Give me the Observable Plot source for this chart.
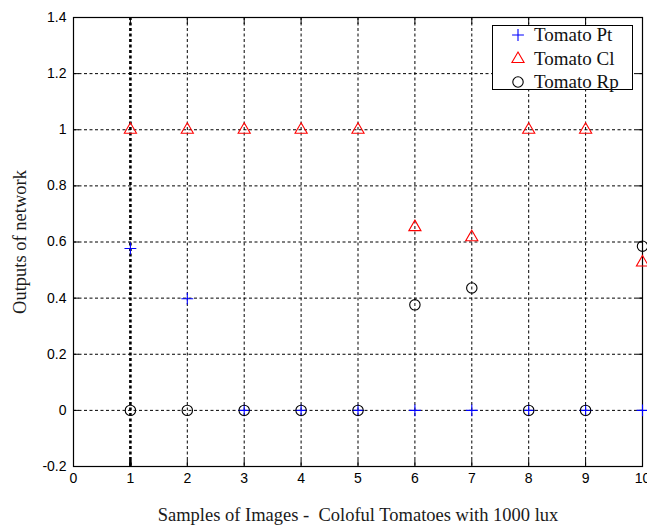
<!DOCTYPE html>
<html>
<head>
<meta charset="utf-8">
<script src="https://cdn.jsdelivr.net/npm/d3@7"></script>
<script src="https://cdn.jsdelivr.net/npm/@observablehq/plot@0.6"></script>
<style>
  html, body { margin: 0; padding: 0; background: #fff; }
  #chart { position: relative; width: 647px; height: 525px; overflow: hidden; background: #fff; }
  #legend { position: absolute; left: 492px; top: 25px; width: 139px; height: 63px; border: 1px solid #000; background: #fff;
            font-family: "Liberation Serif", "Times New Roman", serif; font-size: 19px; color: #111; }
  #legend .row { position: absolute; left: 0; height: 24px; display: flex; align-items: center; white-space: nowrap; }
  #legend svg { display: block; }
</style>
</head>
<body>
<div id="chart"></div>
<script>
// ---- data ----
const samples = [1, 2, 3, 4, 5, 6, 7, 8, 9, 10];
const tomatoPt = [0.577, 0.398, 0, 0, 0, 0, 0, 0, 0, 0];
const tomatoCl = [1, 1, 1, 1, 1, 0.653, 0.617, 1, 1, 0.527];
const tomatoRp = [0, 0, 0, 0, 0, 0.376, 0.436, 0, 0, 0.585];
const xTicks = [0, 1, 2, 3, 4, 5, 6, 7, 8, 9, 10];
const yTicks = [-0.2, 0, 0.2, 0.4, 0.6, 0.8, 1, 1.2, 1.4];
const seriesNames = ["Tomato Pt", "Tomato Cl", "Tomato Rp"];
const seriesColors = ["#0000ff", "#ff0000", "#000000"];
const xLabel = "Samples of Images -  Coloful Tomatoes with 1000 lux";
const yLabel = "Outputs of network";

const rows = [];
samples.forEach((s, i) => {
  rows.push({x: s, y: tomatoPt[i], series: seriesNames[0]});
  rows.push({x: s, y: tomatoCl[i], series: seriesNames[1]});
  rows.push({x: s, y: tomatoRp[i], series: seriesNames[2]});
});
const ofSeries = name => rows.filter(d => d.series === name);

const dash = "3,2.5";
const serif = "'Liberation Serif', 'Times New Roman', serif";
const plot = Plot.plot({
  width: 647,
  height: 525,
  marginLeft: 73,
  marginRight: 5,
  marginTop: 17,
  marginBottom: 59,
  style: {fontFamily: "'Liberation Sans', Arial, sans-serif", fontSize: "14px", background: "#fff", color: "#000"},
  x: {domain: [0, 10], axis: null},
  y: {domain: [-0.2, 1.4], axis: null},
  marks: [
    Plot.ruleX(xTicks.filter(d => d > 0 && d < 10), {x: d => d, stroke: "#000", strokeDasharray: dash,
      strokeWidth: d => d === 1 ? 2.6 : 1}),
    Plot.ruleY(yTicks.filter(d => d > -0.2 && d < 1.4), {y: d => d, stroke: "#000", strokeDasharray: dash, strokeWidth: 1}),
    Plot.axisX(xTicks, {anchor: "bottom", tickSize: -6, tickFormat: () => "", label: null, strokeWidth: d => d === 1 ? 2.6 : 1}),
    Plot.axisX(xTicks, {anchor: "top", tickSize: -6, tickFormat: () => "", label: null}),
    Plot.axisY(yTicks, {anchor: "right", tickSize: -6, tickFormat: () => "", label: null}),
    Plot.frame({stroke: "#000", strokeWidth: 1.2}),
    Plot.axisY(yTicks, {anchor: "left", tickSize: -6, tickPadding: 13, label: null, fontSize: 14, letterSpacing: "0.8px",
      tickFormat: d => String(+d.toFixed(1))}),
    Plot.text(xTicks, {x: d => d, frameAnchor: "bottom", dy: 12, lineAnchor: "middle", fontSize: 14,
      fontWeight: d => d === 1 ? "bold" : "normal", text: d => String(d)}),
    Plot.dot(ofSeries(seriesNames[0]), {x: "x", y: "y", symbol: "plus", r: 3.9, stroke: seriesColors[0], strokeWidth: 1.1, fill: "none"}),
    Plot.dot(ofSeries(seriesNames[1]), {x: "x", y: "y", symbol: "triangle2", r: 5.8, stroke: seriesColors[1], strokeWidth: 1.1, fill: "none"}),
    Plot.dot(ofSeries(seriesNames[2]), {x: "x", y: "y", symbol: "circle", r: 5.2, stroke: seriesColors[2], strokeWidth: 1.1, fill: "none"}),
    Plot.text([xLabel], {frameAnchor: "bottom", dy: 49, lineAnchor: "middle", fontFamily: serif,
      fontSize: 18.5, fill: "#1a1a1a", text: d => d}),
    Plot.text([yLabel], {frameAnchor: "left", dx: -53, rotate: -90, lineAnchor: "middle", textAnchor: "middle",
      fontFamily: serif, fontSize: 18.5, fill: "#1a1a1a", text: d => d})
  ]
});
const chart = document.getElementById("chart");
plot.querySelectorAll("text").forEach(t => t.setAttribute("xml:space", "preserve"));
chart.appendChild(plot);

// ---- legend ----
const legend = document.createElement("div");
legend.id = "legend";
const symbolTypes = [d3.symbolPlus, d3.symbolTriangle2, d3.symbolCircle];
const symbolSizes = [Math.PI * 3.9 * 3.9, Math.PI * 5.8 * 5.8, Math.PI * 5.2 * 5.2];
seriesNames.forEach((name, i) => {
  const row = document.createElement("div");
  row.className = "row";
  row.style.top = (i * 23.5 - 3) + "px";
  const s = d3.create("svg").attr("width", 41).attr("height", 24);
  s.append("path").attr("d", d3.symbol(symbolTypes[i], symbolSizes[i])())
    .attr("transform", "translate(25,12)").attr("fill", "none").attr("stroke", seriesColors[i]).attr("stroke-width", 1.1);
  row.appendChild(s.node());
  const lab = document.createElement("span");
  lab.textContent = name;
  row.appendChild(lab);
  legend.appendChild(row);
});
chart.appendChild(legend);
</script>
</body>
</html>
